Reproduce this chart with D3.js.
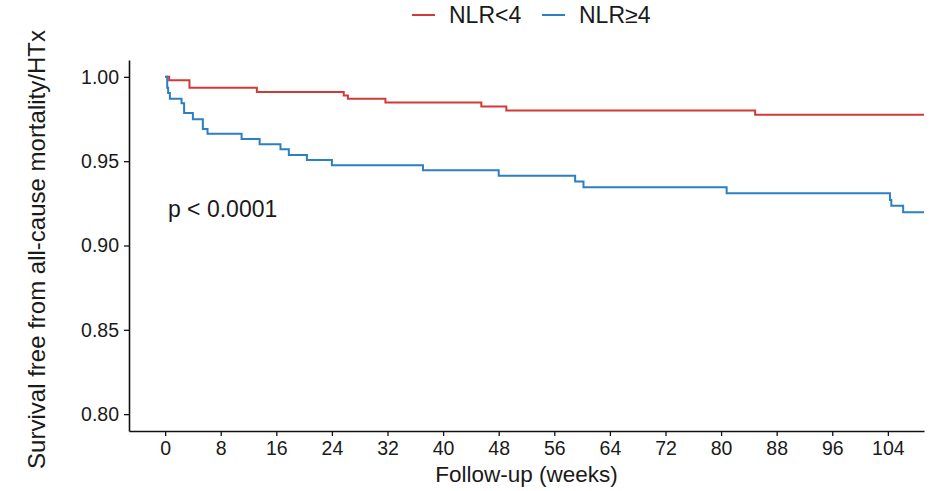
<!DOCTYPE html>
<html>
<head>
<meta charset="utf-8">
<script src="https://cdn.jsdelivr.net/npm/d3@7"></script>
<style>
  body { margin: 0; background: #fff; }
  text { font-family: 'Liberation Sans', Arial, Helvetica, sans-serif; }
</style>
</head>
<body>
<div id="chart"></div>
<script>
// Kaplan-Meier steps (weeks, survival)
const groups = ['NLR<4', 'NLR\u22654']
const colors = ['#d13a36', '#2b7fc3']

const lowTimes = [0, 0.58, 3.5, 13.2, 25.7, 26.3, 31.7, 45.5, 49.1, 84.9, 109.2]
const lowSurv = [1.0, 0.998, 0.9935, 0.991, 0.989, 0.987, 0.9848, 0.9824, 0.980, 0.9776, 0.9776]

const highTimes = [0, 0.3, 0.43, 0.68, 2.36, 2.73, 3.99, 5.43, 6.1, 11.0, 13.6, 16.6, 17.8, 20.4, 24.0,
  37.1, 48.0, 59.0, 60.2, 80.8, 104.3, 104.5, 106.2, 109.2]
const highSurv = [1.0, 0.9935, 0.9905, 0.987, 0.9844, 0.9785, 0.9749, 0.9691, 0.9662, 0.9632, 0.960, 0.9571, 0.9537, 0.9507, 0.9476,
  0.9446, 0.9414, 0.9379, 0.9345, 0.9310, 0.927, 0.9236, 0.9197, 0.9197]

const xTicks = [0, 8, 16, 24, 32, 40, 48, 56, 64, 72, 80, 88, 96, 104]
const yTicks = [0.80, 0.85, 0.90, 0.95, 1.00]
const pLabel = 'p < 0.0001'

const width = 936
const height = 491
const margin = { top: 60, right: 12, bottom: 60, left: 129 }

const x = d3.scaleLinear()
  .domain([-5.2, 109.2])
  .range([margin.left, width - margin.right])

const y = d3.scaleLinear()
  .domain([0.79, 1.01])
  .range([height - margin.bottom, margin.top])

const svg = d3.select('#chart').append('svg')
  .attr('width', width)
  .attr('height', height)

svg.append('defs').append('clipPath')
  .attr('id', 'plot-clip')
  .append('rect')
  .attr('x', margin.left)
  .attr('y', margin.top)
  .attr('width', width - margin.right - margin.left)
  .attr('height', height - margin.bottom - margin.top)

const series = [
  { name: groups[0], color: colors[0], pts: lowTimes.map((t, i) => [t, lowSurv[i]]) },
  { name: groups[1], color: colors[1], pts: highTimes.map((t, i) => [t, highSurv[i]]) }
]

const line = d3.line()
  .x(d => x(d[0]))
  .y(d => y(d[1]))
  .curve(d3.curveStepAfter)

svg.append('g')
  .attr('clip-path', 'url(#plot-clip)')
  .selectAll('path')
  .data(series).enter()
  .append('path')
  .attr('d', d => line(d.pts))
  .attr('fill', 'none')
  .attr('stroke', d => d.color)
  .attr('stroke-width', 2)

const xAxis = g => g
  .attr('transform', `translate(0, ${height - margin.bottom})`)
  .call(d3.axisBottom(x).tickValues(xTicks).tickSize(5).tickSizeOuter(0).tickPadding(5))
  .call(g => g.select('.domain').attr('stroke', '#111').attr('stroke-width', 1.6))
  .call(g => g.selectAll('.tick line').attr('stroke', '#111').attr('stroke-width', 1.3))
  .call(g => g.selectAll('.tick text')
    .attr('fill', '#1a1a1a')
    .attr('font-size', '19.5px')
    .attr('font-family', "'Liberation Sans', Arial, sans-serif"))

const yAxis = g => g
  .attr('transform', `translate(${margin.left}, 0)`)
  .call(d3.axisLeft(y).tickValues(yTicks).tickFormat(d3.format('.2f')).tickSize(5).tickSizeOuter(0).tickPadding(5))
  .call(g => g.select('.domain').attr('stroke', '#111').attr('stroke-width', 1.6))
  .call(g => g.selectAll('.tick line').attr('stroke', '#111').attr('stroke-width', 1.3))
  .call(g => g.selectAll('.tick text')
    .attr('fill', '#1a1a1a')
    .attr('font-size', '19.5px')
    .attr('font-family', "'Liberation Sans', Arial, sans-serif"))

svg.append('g').call(xAxis)
svg.append('g').call(yAxis)

// axis titles
svg.append('text')
  .attr('x', (margin.left + width - margin.right) / 2)
  .attr('y', 482)
  .attr('text-anchor', 'middle')
  .attr('fill', '#1a1a1a')
  .attr('font-size', '22.5px')
  .text('Follow-up (weeks)')

svg.append('text')
  .attr('transform', `translate(45, ${(margin.top + height - margin.bottom) / 2 + 4}) rotate(-90)`)
  .attr('text-anchor', 'middle')
  .attr('fill', '#1a1a1a')
  .attr('font-size', '24px')
  .text('Survival free from all-cause mortality/HTx')

// p-value
svg.append('text')
  .attr('x', x(0.4))
  .attr('y', y(0.9171))
  .attr('fill', '#1a1a1a')
  .attr('font-size', '23px')
  .text(pLabel)

// legend
const legendX = [412, 542]
const legend = svg.append('g')
  .selectAll('g')
  .data(series).enter()
  .append('g')
  .attr('transform', (d, i) => `translate(${legendX[i]}, 15)`)

legend.append('line')
  .attr('x1', 0)
  .attr('x2', 23)
  .attr('stroke', d => d.color)
  .attr('stroke-width', 2)

legend.append('text')
  .attr('x', 37)
  .attr('y', 8)
  .attr('fill', '#1a1a1a')
  .attr('font-size', '23px')
  .text(d => d.name)
</script>
</body>
</html>
